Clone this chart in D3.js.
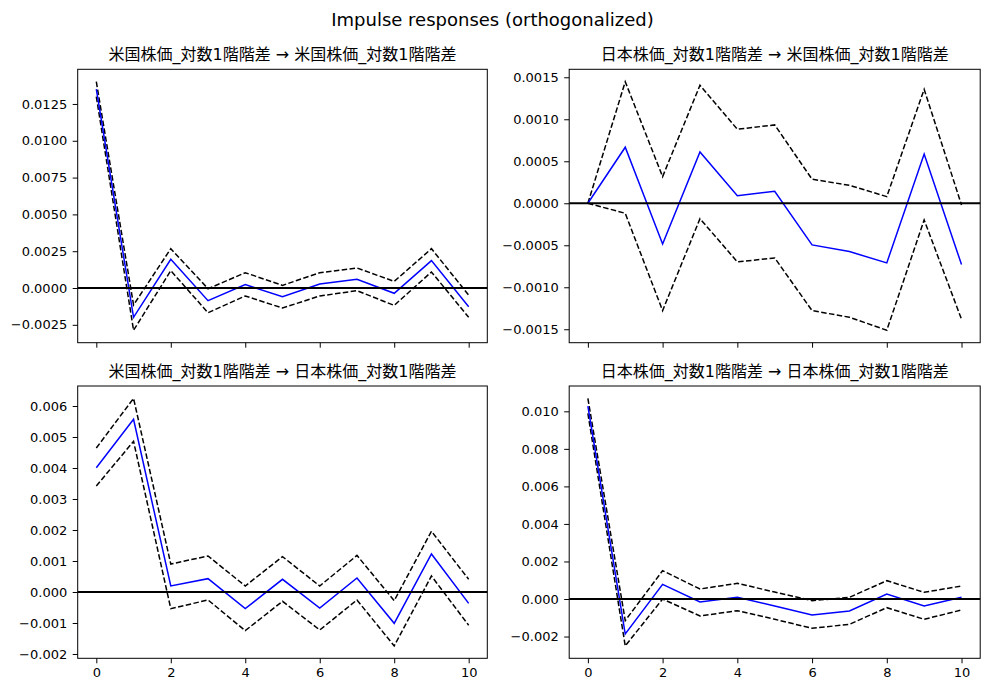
<!DOCTYPE html>
<html>
<head>
<meta charset="utf-8">
<script src="https://cdn.jsdelivr.net/npm/d3@7"></script>
<style>
  html, body { margin: 0; padding: 0; background: #fff; }
  svg { display: block; }
  text { font-family: "DejaVu Sans", "Noto Sans CJK JP", sans-serif; fill: #000; }
</style>
</head>
<body>
<svg id="chart" width="989" height="691"></svg>
<script>
const chartTitle = "Impulse responses (orthogonalized)";
const steps = [0, 1, 2, 3, 4, 5, 6, 7, 8, 9, 10];
const xTicks = [0, 2, 4, 6, 8, 10];

const panelTitles = [
  "米国株価_対数1階階差 → 米国株価_対数1階階差",
  "日本株価_対数1階階差 → 米国株価_対数1階階差",
  "米国株価_対数1階階差 → 日本株価_対数1階階差",
  "日本株価_対数1階階差 → 日本株価_対数1階階差"
];

// US -> US
const irfUSUS   = [0.01350, -0.00199, 0.00195, -0.00086, 0.00023, -0.00059, 0.00027, 0.00059, -0.00036, 0.00186, -0.00127];
const upperUSUS = [0.01401, -0.00115, 0.00267, -0.00005, 0.00104, 0.00018, 0.00104, 0.00136, 0.00045, 0.00267, -0.00048];
const lowerUSUS = [0.01300, -0.00287, 0.00118, -0.00168, -0.00054, -0.00136, -0.00054, -0.00018, -0.00118, 0.00109, -0.00199];
const ticksUSUS = [-0.0025, 0.0, 0.0025, 0.005, 0.0075, 0.01, 0.0125];

// JP -> US
const irfJPUS   = [0, 0.000667, -0.000484, 0.000611, 0.000091, 0.000143, -0.000496, -0.000575, -0.000710, 0.000587, -0.000730];
const upperJPUS = [0, 0.001447, 0.000317, 0.001405, 0.000881, 0.000933, 0.000286, 0.000214, 0.000079, 0.001357, -0.000020];
const lowerJPUS = [0, -0.000119, -0.001278, -0.000183, -0.000698, -0.000651, -0.001278, -0.001357, -0.001512, -0.000198, -0.001381];
const ticksJPUS = [-0.0015, -0.001, -0.0005, 0.0, 0.0005, 0.001, 0.0015];

// US -> JP
const irfUSJP   = [0.00401, 0.00557, 0.000194, 0.00043, -0.000538, 0.000409, -0.000516, 0.000452, -0.00101, 0.001226, -0.000366];
const upperUSJP = [0.004645, 0.006246, 0.000903, 0.00116, 0.000194, 0.00114, 0.000194, 0.00118, -0.00028, 0.00196, 0.000409];
const lowerUSJP = [0.00342, 0.00486, -0.000538, -0.000258, -0.001247, -0.000301, -0.001226, -0.000258, -0.00174, 0.000516, -0.001075];
const ticksUSJP = [-0.002, -0.001, 0.0, 0.001, 0.002, 0.003, 0.004, 0.005, 0.006];

// JP -> JP
const irfJPJP   = [0.01028, -0.001865, 0.00078, -0.00016, 0.000089, -0.00037, -0.00085, -0.00064, 0.000266, -0.00037, 0.000089];
const upperJPJP = [0.01069, -0.00115, 0.00151, 0.000533, 0.000835, 0.00037, -0.000089, 0.000089, 0.000977, 0.000355, 0.000693];
const lowerJPJP = [0.00989, -0.0025, 0.0, -0.000906, -0.000622, -0.00108, -0.00156, -0.00135, -0.000462, -0.00108, -0.000586];
const ticksJPJP = [-0.002, 0.0, 0.002, 0.004, 0.006, 0.008, 0.01];

const panels = [
  { title: panelTitles[0], irf: irfUSUS, upper: upperUSUS, lower: lowerUSUS, ticks: ticksUSUS, fmt: ".4f", col: 0, row: 0 },
  { title: panelTitles[1], irf: irfJPUS, upper: upperJPUS, lower: lowerJPUS, ticks: ticksJPUS, fmt: ".4f", col: 1, row: 0 },
  { title: panelTitles[2], irf: irfUSJP, upper: upperUSJP, lower: lowerUSJP, ticks: ticksUSJP, fmt: ".3f", col: 0, row: 1 },
  { title: panelTitles[3], irf: irfJPJP, upper: upperJPJP, lower: lowerJPJP, ticks: ticksJPJP, fmt: ".3f", col: 1, row: 1 }
];

const layout = {
  lefts: [77.7, 569.2], widths: [409.6, 411],
  tops: [69.3, 386], heights: [273.4, 272.3]
};

const svg = d3.select("#chart");

svg.append("text")
  .attr("x", 492.5).attr("y", 26)
  .attr("text-anchor", "middle")
  .style("font-size", "18px")
  .text(chartTitle);

const minus = s => s.replace("-", "\u2212");

panels.forEach(p => {
  const L = layout.lefts[p.col], T = layout.tops[p.row];
  const W = layout.widths[p.col], H = layout.heights[p.row];
  const g = svg.append("g").attr("transform", `translate(${L},${T})`);

  const all = p.irf.concat(p.upper, p.lower, [0]);
  const lo = d3.min(all), hi = d3.max(all);
  const pad = (hi - lo) * 0.05;
  const y = d3.scaleLinear().domain([lo - pad, hi + pad]).range([H, 0]);
  const x = d3.scaleLinear().domain([-0.5, 10.5]).range([0, W]);

  const line = vals => d3.line().x((d, i) => x(steps[i])).y(d => y(d))(vals);

  g.append("path").attr("d", line(p.upper)).attr("fill", "none")
    .attr("stroke", "#000").attr("stroke-width", 1.5).attr("stroke-dasharray", "5.5,2.4");
  g.append("path").attr("d", line(p.lower)).attr("fill", "none")
    .attr("stroke", "#000").attr("stroke-width", 1.5).attr("stroke-dasharray", "5.5,2.4");
  g.append("path").attr("d", line(p.irf)).attr("fill", "none")
    .attr("stroke", "#0000ff").attr("stroke-width", 1.5);

  g.append("line").attr("x1", 0).attr("x2", W).attr("y1", y(0)).attr("y2", y(0))
    .attr("stroke", "#000").attr("stroke-width", 2);

  const yAxis = d3.axisLeft(y).tickValues(p.ticks)
    .tickFormat(d => minus(d3.format(p.fmt)(d))).tickSize(5).tickPadding(5.5);
  const ya = g.append("g").call(yAxis);
  ya.select(".domain").remove();
  ya.selectAll("text").style("font-size", "13px").style("font-family", '"DejaVu Sans", sans-serif');

  const xAxis = d3.axisBottom(x).tickValues(xTicks).tickSize(5).tickPadding(4.5)
    .tickFormat(p.row === 1 ? d3.format("d") : () => "");
  const xa = g.append("g").attr("transform", `translate(0,${H})`).call(xAxis);
  xa.select(".domain").remove();
  xa.selectAll("text").style("font-size", "13px").style("font-family", '"DejaVu Sans", sans-serif');

  g.append("rect").attr("x", 0).attr("y", 0).attr("width", W).attr("height", H)
    .attr("fill", "none").attr("stroke", "#000").attr("stroke-width", 1);

  g.append("text").attr("x", W / 2).attr("y", -9)
    .attr("text-anchor", "middle").style("font-size", "16px")
    .text(p.title);
});
</script>
</body>
</html>
